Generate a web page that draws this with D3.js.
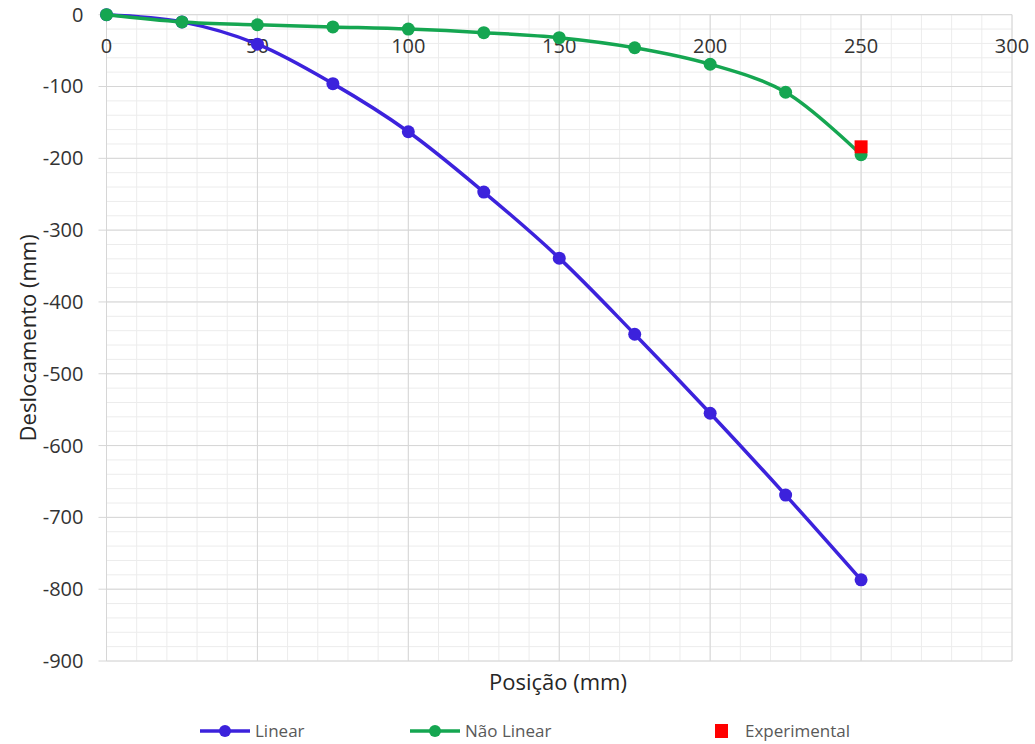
<!DOCTYPE html>
<html>
<head>
<meta charset="utf-8">
<script src="https://cdn.jsdelivr.net/npm/d3@7"></script>
<style>
  body { margin: 0; background: #fff; }
  svg { font-family: "Open Sans", sans-serif; }
</style>
</head>
<body>
<svg id="chart" width="1035" height="744"></svg>
<script>
// data
var positions = [0, 25, 50, 75, 100, 125, 150, 175, 200, 225, 250];
var linearValues = [0, -10, -41, -96, -163, -247, -339, -445, -555, -669, -787];
var naoLinearValues = [0, -10, -14, -17, -20, -25, -32, -46, -69, -108, -195];
var experimentalX = [250];
var experimentalY = [-184];
var xTicks = [0, 50, 100, 150, 200, 250, 300];
var yTicks = [0, -100, -200, -300, -400, -500, -600, -700, -800, -900];

var svg = d3.select('#chart');

var margin = {left: 106.5, right: 23, top: 14.7, bottom: 83},
    width = 1035 - margin.left - margin.right,
    height = 744 - margin.top - margin.bottom;

var x = d3.scaleLinear().domain([0, 300]).range([0, width]);
var y = d3.scaleLinear().domain([0, -900]).range([0, height]);

var g = svg.append('g').attr('transform', 'translate(' + margin.left + ',' + margin.top + ')');

// minor grid
g.append('g').selectAll('line').data(d3.range(0, 301, 10)).enter().append('line')
  .attr('x1', function(d){ return x(d); }).attr('x2', function(d){ return x(d); })
  .attr('y1', 0).attr('y2', height)
  .attr('stroke', '#ececec').attr('stroke-width', 1);
g.append('g').selectAll('line').data(d3.range(0, -901, -20)).enter().append('line')
  .attr('y1', function(d){ return y(d); }).attr('y2', function(d){ return y(d); })
  .attr('x1', 0).attr('x2', width)
  .attr('stroke', '#ececec').attr('stroke-width', 1);

// major grid
g.append('g').selectAll('line').data(xTicks).enter().append('line')
  .attr('x1', function(d){ return x(d); }).attr('x2', function(d){ return x(d); })
  .attr('y1', 0).attr('y2', height)
  .attr('stroke', '#d6d6d6').attr('stroke-width', 1);
g.append('g').selectAll('line').data(yTicks).enter().append('line')
  .attr('y1', function(d){ return y(d); }).attr('y2', function(d){ return y(d); })
  .attr('x1', -8).attr('x2', width)
  .attr('stroke', '#d6d6d6').attr('stroke-width', 1);

// tick labels
g.append('g').selectAll('text').data(yTicks).enter().append('text')
  .attr('x', -23).attr('y', function(d){ return y(d); })
  .attr('dy', '0.35em').attr('text-anchor', 'end')
  .attr('font-size', '20px').attr('fill', '#333')
  .text(function(d){ return d; });

g.append('g').selectAll('text').data(xTicks).enter().append('text')
  .attr('x', function(d){ return x(d); }).attr('y', 31)
  .attr('dy', '0.35em').attr('text-anchor', 'middle')
  .attr('font-size', '20px').attr('fill', '#333')
  .text(function(d){ return d; });

var line = d3.line()
  .x(function(d){ return x(d[0]); })
  .y(function(d){ return y(d[1]); })
  .curve(d3.curveCatmullRom.alpha(0.5));

var series = [
  {name: 'Linear', values: linearValues, color: '#3c22dc'},
  {name: 'Não Linear', values: naoLinearValues, color: '#15a651'}
];

series.forEach(function(s) {
  var pts = positions.map(function(p, i){ return [p, s.values[i]]; });
  g.append('path').datum(pts)
    .attr('d', line)
    .attr('fill', 'none')
    .attr('stroke', s.color)
    .attr('stroke-width', 3.5);
  g.append('g').selectAll('circle').data(pts).enter().append('circle')
    .attr('cx', function(d){ return x(d[0]); })
    .attr('cy', function(d){ return y(d[1]); })
    .attr('r', 6.5)
    .attr('fill', s.color);
});

// experimental point
g.append('g').selectAll('rect').data(experimentalX).enter().append('rect')
  .attr('x', function(d){ return x(d) - 6.5; })
  .attr('y', function(d, i){ return y(experimentalY[i]) - 6.5; })
  .attr('width', 13).attr('height', 13)
  .attr('fill', '#ff0000');

// axis titles
svg.append('text')
  .attr('transform', 'translate(36,' + (margin.top + height/2) + ') rotate(-90)')
  .attr('text-anchor', 'middle')
  .attr('font-size', '22px').attr('fill', '#262626')
  .text('Deslocamento (mm)');

svg.append('text')
  .attr('x', 558).attr('y', 682).attr('dy', '0.35em')
  .attr('text-anchor', 'middle')
  .attr('font-size', '22px').attr('fill', '#262626')
  .text('Posição (mm)');

// legend
var legend = svg.append('g').attr('transform', 'translate(0,731)');
var legendItems = [
  {name: 'Linear', color: '#3c22dc', x: 200, type: 'line'},
  {name: 'Não Linear', color: '#15a651', x: 410, type: 'line'},
  {name: 'Experimental', color: '#ff0000', x: 700, type: 'square'}
];
legendItems.forEach(function(d) {
  if (d.type === 'line') {
    legend.append('line').attr('x1', d.x).attr('x2', d.x + 50)
      .attr('y1', 0).attr('y2', 0)
      .attr('stroke', d.color).attr('stroke-width', 3.5);
    legend.append('circle').attr('cx', d.x + 25).attr('cy', 0).attr('r', 6).attr('fill', d.color);
    legend.append('text').attr('x', d.x + 55).attr('y', 0).attr('dy', '0.35em')
      .attr('font-size', '17px').attr('fill', '#595959').text(d.name);
  } else {
    legend.append('rect').attr('x', d.x + 15).attr('y', -7).attr('width', 13).attr('height', 14).attr('fill', d.color);
    legend.append('text').attr('x', d.x + 45).attr('y', 0).attr('dy', '0.35em')
      .attr('font-size', '17px').attr('fill', '#595959').text(d.name);
  }
});
</script>
</body>
</html>
